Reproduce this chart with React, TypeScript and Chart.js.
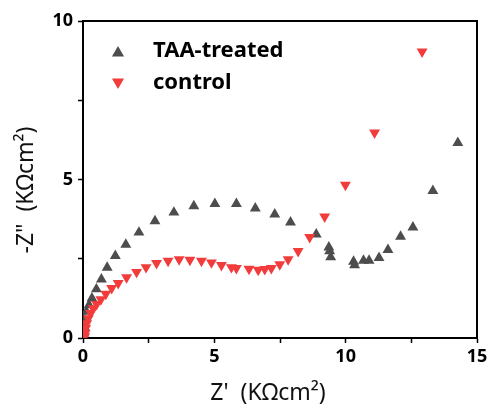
import React, { useEffect, useRef } from "react";
import { Chart, registerables } from "chart.js";

Chart.register(...registerables);

const taaX = [0.03, 0.05, 0.07, 0.13, 0.23, 0.34, 0.51, 0.70, 0.92, 1.23, 1.63, 2.13, 2.74, 3.46, 4.22, 5.02, 5.84, 6.56, 7.30, 7.90, 8.88, 9.36, 9.39, 9.43, 10.30, 10.34, 10.68, 10.89, 11.27, 11.61, 12.09, 12.56, 13.32, 14.27];
const taaY = [0.15, 0.35, 0.55, 0.83, 1.04, 1.25, 1.54, 1.85, 2.22, 2.59, 2.95, 3.33, 3.69, 3.96, 4.16, 4.23, 4.23, 4.09, 3.90, 3.65, 3.27, 2.86, 2.74, 2.55, 2.41, 2.30, 2.44, 2.44, 2.53, 2.78, 3.20, 3.49, 4.64, 6.16];

const ctrlX = [0.06, 0.08, 0.10, 0.14, 0.20, 0.29, 0.39, 0.52, 0.68, 0.87, 1.09, 1.34, 1.66, 2.04, 2.40, 2.80, 3.24, 3.66, 4.07, 4.51, 4.89, 5.27, 5.65, 5.84, 6.32, 6.67, 6.92, 7.17, 7.49, 7.81, 8.19, 8.63, 9.20, 9.99, 11.10, 12.91];
const ctrlY = [0.05, 0.15, 0.31, 0.46, 0.62, 0.78, 0.93, 1.07, 1.22, 1.39, 1.57, 1.73, 1.91, 2.08, 2.23, 2.36, 2.43, 2.48, 2.46, 2.43, 2.38, 2.30, 2.23, 2.20, 2.18, 2.15, 2.17, 2.20, 2.32, 2.48, 2.74, 3.18, 3.83, 4.83, 6.48, 9.03];

const seriesNames = ["TAA-treated", "control"];
const xTitle = "Z'  (KΩcm²)";
const yTitle = '-Z"  (KΩcm²)';

const GRAY = "#4d4d4d";
const RED = "#f23c3c";
const FONT = "'Noto Sans', 'Open Sans', sans-serif";

function tri(ctx: CanvasRenderingContext2D, x: number, y: number, r: number, down: boolean, color: string) {
  ctx.save();
  ctx.fillStyle = color;
  ctx.beginPath();
  const s = down ? -1 : 1;
  ctx.moveTo(x, y - s * r);
  ctx.lineTo(x + r * 0.866, y + s * r * 0.5);
  ctx.lineTo(x - r * 0.866, y + s * r * 0.5);
  ctx.closePath();
  ctx.fill();
  ctx.restore();
}

const decorPlugin = {
  id: "decor",
  afterDraw(chart: any) {
    const ctx = chart.ctx as CanvasRenderingContext2D;
    const a = chart.chartArea;
    ctx.save();
    ctx.strokeStyle = "#000";
    ctx.lineWidth = 2;
    ctx.beginPath();
    ctx.moveTo(a.left, a.top);
    ctx.lineTo(a.right, a.top);
    ctx.lineTo(a.right, a.bottom);
    ctx.stroke();

    // legend
    tri(ctx, 118, 53, 7, false, GRAY);
    tri(ctx, 118, 82, 7, true, RED);
    ctx.fillStyle = "#000";
    ctx.font = `bold 22px ${FONT}`;
    ctx.textBaseline = "middle";
    ctx.textAlign = "left";
    ctx.fillText(seriesNames[0], 153, 51);
    ctx.fillText(seriesNames[1], 153, 83);

    // axis titles
    ctx.font = `23px ${FONT}`;
    ctx.textAlign = "center";
    ctx.fillStyle = "#111";
    ctx.fillText(xTitle, 268, 393);
    ctx.translate(26, 190);
    ctx.rotate(-Math.PI / 2);
    ctx.fillText(yTitle, 0, 0);
    ctx.restore();
  },
};

export default function App() {
  const ref = useRef<HTMLCanvasElement>(null);
  useEffect(() => {
    const canvas = ref.current!;
    const tickCb = (v: any) => (Number(v) % 5 === 0 ? String(v) : "");
    const chart = new Chart(canvas, {
      type: "scatter",
      data: {
        datasets: [
          {
            label: seriesNames[1],
            data: ctrlX.map((x, i) => ({ x, y: ctrlY[i] })),
            pointStyle: "triangle",
            rotation: 180,
            pointRadius: 6.3,
            pointBorderWidth: 0,
            backgroundColor: RED,
            borderColor: RED,
            order: 0,
          },
          {
            label: seriesNames[0],
            data: taaX.map((x, i) => ({ x, y: taaY[i] })),
            pointStyle: "triangle",
            pointRadius: 6.3,
            pointBorderWidth: 0,
            backgroundColor: GRAY,
            borderColor: GRAY,
            order: 1,
          },
        ],
      },
      options: {
        responsive: false,
        animation: false,
        layout: { padding: { left: 0, right: 15, top: 21, bottom: 0 } },
        plugins: { legend: { display: false }, tooltip: { enabled: false } },
        scales: {
          x: {
            type: "linear",
            min: 0,
            max: 15,
            afterFit: (s: any) => { s.height = 79; },
            border: { display: true, color: "#000", width: 2 },
            grid: { drawOnChartArea: false, drawTicks: true, tickLength: 5, tickColor: "#000", tickWidth: 1.5 },
            ticks: { stepSize: 2.5, autoSkip: false, maxRotation: 0, padding: 3, color: "#000", font: { family: FONT, size: 18, weight: "bold" }, callback: tickCb },
          },
          y: {
            type: "linear",
            min: 0,
            max: 10,
            afterFit: (s: any) => { s.width = 83; },
            border: { display: true, color: "#000", width: 2 },
            grid: { drawOnChartArea: false, drawTicks: true, tickLength: 5, tickColor: "#000", tickWidth: 1.5 },
            ticks: { stepSize: 2.5, autoSkip: false, padding: 5, color: "#000", font: { family: FONT, size: 18, weight: "bold" }, callback: tickCb },
          },
        },
      },
      plugins: [decorPlugin],
    });
    return () => chart.destroy();
  }, []);
  return (
    <div style={{ position: "fixed", left: 0, top: 0, width: 492, height: 417, background: "#fff" }}>
      <canvas ref={ref} width={492} height={417} />
    </div>
  );
}
